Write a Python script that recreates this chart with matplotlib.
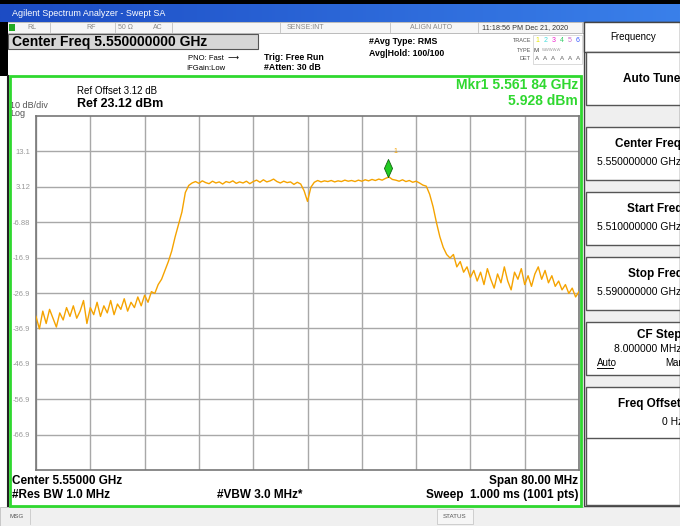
import numpy as np
import matplotlib
matplotlib.use('Agg')
import matplotlib.pyplot as plt
from matplotlib.patches import Rectangle

# %% data

start_mhz = 5510.0
stop_mhz = 5590.0
step_mhz = 0.5
ref_level = 23.12
db_per_div = 10.0

# trace level in dBm, one value every 0.5 MHz from 5510 MHz
level_dbm = [
    -33.5, -37.0, -32.0, -35.5, -31.5, -34.0, -36.5, -32.5, -34.5, -31.0,
    -33.5, -30.5, -34.0, -32.0, -29.0, -35.5, -31.0, -33.0, -29.5, -33.5,
    -30.5, -32.5, -29.0, -33.0, -30.0, -31.5, -28.5, -32.0, -29.5, -31.0,
    -28.0, -30.5, -27.5, -29.5,
    -26.5, -27.0, -24.5, -23.0, -20.5, -18.0, -15.0, -11.0, -7.5, -4.0,
    1.5, 3.5, 4.2,
    4.6, 4.1, 4.8, 4.3, 4.0, 4.7, 4.2, 4.5, 3.9, 4.6,
    4.3, 4.8, 4.1, 4.5, 4.2, 4.7, 4.0, 4.6, 5.0, 4.4,
    5.1, 4.5, 4.8, 5.3, 4.6, 4.2, 4.7, 4.3, 4.5, 3.8,
    4.4, 3.9, 2.0, -1.0, 3.0, 4.4, 4.9, 4.5, 4.8, 4.6,
    4.9, 4.5, 4.8, 4.6, 5.0, 4.7, 4.9, 4.6, 5.0, 4.7,
    5.1, 4.8, 5.2, 4.9, 5.3, 5.0, 5.5, 5.9, 5.2, 5.0,
    4.7, 5.1, 4.6, 4.9, 4.4, 4.7, 4.2, 3.6,
    3.3, 1.0, -2.5, -7.0, -11.0, -14.0, -16.0, -17.0, -16.0, -19.5,
    -18.0, -21.0, -19.5, -22.5, -20.5, -23.5, -21.0, -24.5, -20.0, -23.0,
    -25.5, -21.5, -24.0, -19.5, -23.5, -26.0, -21.0, -23.0, -20.0, -24.5,
    -22.0, -25.0, -21.5, -19.5, -23.0, -20.5, -24.0, -22.0, -25.0, -23.5,
    -26.0, -24.5, -27.0, -25.5, -28.0, -26.5,
]

mkr_freq = 5561.84
mkr_level = 5.928

ytick_labels = ['13.1', '3.12', '-6.88', '-16.9', '-26.9', '-36.9', '-46.9', '-56.9', '-66.9']

softkeys = [('Auto Tune', None), ('Center Freq', '5.550000000 GHz'),
            ('Start Freq', '5.510000000 GHz'), ('Stop Freq', '5.590000000 GHz'),
            ('CF Step', '8.000000 MHz'), ('Freq Offset', '0 Hz')]

# %% style

plt.rcParams['font.family'] = ['Liberation Sans', 'DejaVu Sans']
green = '#2fd82f'
trace_col = '#f5a300'
W, H = 680, 526

fig = plt.figure(figsize=(W / 100, H / 100), dpi=100)
cv = fig.add_axes([0, 0, 1, 1])
cv.set_xlim(0, W)
cv.set_ylim(H, 0)
cv.axis('off')


def box(x, y, w, h, fc='none', ec='none', lw=0.8, z=1):
    cv.add_patch(Rectangle((x, y), w, h, fc=fc, ec=ec, lw=lw, zorder=z))


def txt(x, y, s, size=7, weight='normal', color='black', ha='left', **kw):
    cv.text(x, y, s, fontsize=size, fontweight=weight, color=color, ha=ha, va='center', **kw)


# %% window chrome

box(0, 0, W, 4, fc='black')
grad = np.linspace(0, 1, 256).reshape(1, -1)
cv.imshow(grad, extent=(0, W, 22, 4), aspect='auto', cmap=matplotlib.colors.LinearSegmentedColormap.from_list('bar', ['#1c4cc4', '#3a80ea']), zorder=1)
txt(12, 13, 'Agilent Spectrum Analyzer - Swept SA', size=6.5, color='white')

# status row
box(0, 22, W, 11, fc='#f6f6f6', ec='#b0b0b0', lw=0.6)
box(9, 24, 6, 7, fc='#22aa22')
for xs in [50, 115, 172, 280, 390, 478, 582]:
    cv.plot([xs, xs], [23, 32], color='#c0c0c0', lw=0.6)
for xs, s in [(27, 'RL'), (86, 'RF'), (118, '50 Ω'), (153, 'AC'), (287, 'SENSE:INT'), (410, 'ALIGN AUTO')]:
    txt(xs, 27.5, s, size=5, color='#888888')
txt(482, 27.5, '11:18:56 PM Dec 21, 2020', size=5.2, color='#333333')

box(0, 22, 8, 54, fc='black')
cv.plot([8, 8], [76, 506], color='#222222', lw=1.5)

# center freq box
box(8, 34, 250, 15, fc='#d6d6d6', ec='#555555')
txt(12, 42, 'Center Freq 5.550000000 GHz', size=10, weight='bold')

txt(188, 58, 'PNO: Fast  ⟶', size=5.5)
txt(186, 68, 'IFGain:Low', size=5.5)
txt(264, 57, 'Trig: Free Run', size=6.3, weight='bold')
txt(264, 67, '#Atten: 30 dB', size=6.3, weight='bold')
txt(369, 41, '#Avg Type: RMS', size=6.3, weight='bold')
txt(369, 53, 'Avg|Hold: 100/100', size=6.3, weight='bold')

# trace / type / det table
txt(531, 41, 'TRACE', size=4, color='#555555', ha='right')
txt(531, 50, 'TYPE', size=4, color='#555555', ha='right')
txt(531, 59, 'DET', size=4, color='#555555', ha='right')
for i, c in enumerate(['#e8e800', '#44dddd', '#ee22cc', '#33cc66', '#cc66cc', '#3355ff']):
    txt(535 + 8.2 * i, 41, str(i + 1), size=5, color=c)
    txt(535 + 8.2 * i, 59, 'A', size=4.5, color='#666666')
txt(534, 50, 'M', size=4.5, color='#444444')
txt(542, 50, 'WWWWW', size=3, color='#999999')
box(533, 35, 49, 29, ec='#cccccc', lw=0.5)

# %% softkey panel (labels run past the right edge, as on the screen grab)

box(584, 22, W - 584, 484, fc='#efefef', ec='#444444', lw=1)
box(584, 22, W - 584, 30, fc='white', ec='#444444', lw=1)
txt(610, 37, 'Frequency', size=7)
for k, (lab, val) in enumerate(softkeys):
    y0 = 52 + 65 * k + (10 if k else 0)
    hgt = 53
    box(586, y0, W - 586, hgt, fc='white', ec='#555555', lw=1)
    if val is None:
        txt(623, y0 + hgt / 2 + 1, lab, size=8.5, weight='bold')
    elif lab == 'CF Step':
        txt(637, y0 + 13, lab, size=8.5, weight='bold')
        txt(614, y0 + 27, val, size=7.5)
        txt(597, y0 + 41, 'Auto', size=7)
        cv.plot([597, 613], [y0 + 46, y0 + 46], color='black', lw=0.7)
        txt(665, y0 + 41, 'Man', size=7)
    else:
        xl = {'Center Freq': 615, 'Start Freq': 627, 'Stop Freq': 628, 'Freq Offset': 618}[lab]
        xv = 662 if val == '0 Hz' else 597
        txt(xl, y0 + 17, lab, size=8.5, weight='bold')
        txt(xv, y0 + 35, val, size=7.5)
box(586, 438, W - 586, 67, fc='white', ec='#555555', lw=1)

# %% bottom status bar

box(0, 507, W, 19, fc='#f0f0f0', ec='#c0c0c0', lw=0.6)
txt(10, 516, 'MSG', size=4.5, color='#555555')
cv.plot([30, 30], [509, 524], color='#c8c8c8', lw=0.6)
box(437, 509, 36, 15, fc='#f6f6f6', ec='#c8c8c8', lw=0.6)
txt(455, 516, 'STATUS', size=4.5, color='#555555', ha='center')

# %% green measurement frame and its annotations

box(9.5, 76, 571, 429.5, ec=green, lw=2, z=5)
txt(77, 91, 'Ref Offset 3.12 dB', size=7)
txt(77, 104, 'Ref 23.12 dBm', size=9, weight='bold')
txt(10, 106, '10 dB/div', size=6.5, color='#555555')
txt(10, 114, 'Log', size=6.5, color='#555555')
txt(578, 85, 'Mkr1 5.561 84 GHz', size=10, weight='bold', color=green, ha='right')
txt(578, 101, '5.928 dBm', size=10, weight='bold', color=green, ha='right')
txt(12, 481, 'Center 5.55000 GHz', size=8.5, weight='bold')
txt(12, 495, '#Res BW 1.0 MHz', size=8.5, weight='bold')
txt(217, 495, '#VBW 3.0 MHz*', size=8.5, weight='bold')
txt(578, 481, 'Span 80.00 MHz', size=8.5, weight='bold', ha='right')
txt(578, 495, 'Sweep  1.000 ms (1001 pts)', size=8.5, weight='bold', ha='right')

# %% trace axes

x0, x1, y0, y1 = 36, 579, 116, 470
ax = fig.add_axes([x0 / W, 1 - y1 / H, (x1 - x0) / W, (y1 - y0) / H])
ax.set_facecolor('none')

freq = start_mhz + step_mhz * np.arange(len(level_dbm))
bottom = ref_level - 10 * db_per_div
ax.set_xlim(start_mhz, stop_mhz)
ax.set_ylim(bottom, ref_level)
ax.set_xticks(np.linspace(start_mhz, stop_mhz, 11))
yt = ref_level - db_per_div * np.arange(1, 10)
ax.set_yticks(yt)
ax.set_yticklabels(ytick_labels, color='#999999', fontsize=5.5)
ax.tick_params(length=0, labelbottom=False, pad=4)
ax.grid(True, color='#a8a8a8', lw=1)
for sp in ax.spines.values():
    sp.set_color('#777777')
    sp.set_linewidth(1.2)

ax.plot(freq, level_dbm, color=trace_col, lw=1.0, zorder=3)

diamond = [(0, 0), (0.45, 1), (0, 2), (-0.45, 1), (0, 0)]
ax.plot([mkr_freq], [mkr_level], marker=diamond, markersize=26, color='#22cc22',
        markeredgecolor='#116611', markeredgewidth=0.6, zorder=4)
ax.annotate('1', (mkr_freq, mkr_level), xytext=(6, 24), textcoords='offset pixels',
            color=trace_col, fontsize=5, zorder=4)

fig.savefig('out.png', dpi=100)
